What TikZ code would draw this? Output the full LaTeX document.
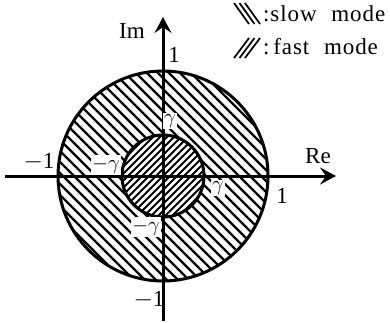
\documentclass[tikz,border=0pt]{standalone}
\usepackage{fontspec}
\setmainfont{Liberation Serif}
\usetikzlibrary{arrows.meta}
\newfontfamily\legfont[LetterSpace=4,WordSpace=2.2]{Liberation Serif}
\begin{document}
\begin{tikzpicture}[x=1pt,y=-1pt,
  thick line/.style={line width=3pt},
  hatch/.style={line width=2.4pt},
  ihatch/.style={line width=1.9pt},
  lbl/.style={font=\fontsize{23}{23}\selectfont, inner sep=1pt},
  glbl/.style={font=\fontsize{22}{22}\selectfont, inner sep=1.5pt, fill=white},
  axis/.style={line width=3pt, -{Stealth[length=16pt,width=17pt,inset=6pt]}}]
\useasboundingbox (0,0) rectangle (390,322);
\coordinate (O) at (163,176);
% annulus hatch (slow mode)
\begin{scope}[even odd rule]
  \clip (O) circle (105) (O) circle (41);
  \foreach \c in {-210,-199,...,210} {
    \draw[hatch] ([shift={(\c-150,-150)}]O) -- ([shift={(\c+150,150)}]O);
  }
\end{scope}
% inner disc hatch (fast mode)
\begin{scope}
  \clip (O) circle (41);
  \foreach \c in {-84,-77,...,84} {
    \draw[ihatch] ([shift={(\c-60,60)}]O) -- ([shift={(\c+60,-60)}]O);
  }
\end{scope}
\draw[thick line] (O) circle (105);
\draw[thick line] (O) circle (41);
% axes
\coordinate (xl) at (5,176);
\coordinate (xr) at (336,176);
\coordinate (yb) at (163,321);
\coordinate (yt) at (163,17);
\draw[axis] (xl) -- (xr);
\draw[axis] (yb) -- (yt);
% labels
\node[lbl] (im) at (132,31) {Im};
\node[lbl] (re) at (318,156) {Re};
\node[lbl] (one1) at (174,55) {1};
\node[lbl] (one2) at (282,196) {1};
\node[lbl] (mone1) at (39,162) {$-$1};
\node[lbl] (mone2) at (149,300) {$-$1};
\node[glbl] (g1) at (170,121) {$\gamma$};
\node[glbl] (g2) at (218,188) {$\gamma$};
\node[glbl] (mg1) at (106,165) {$-\gamma$};
\node[glbl] (mg2) at (146,227) {$-\gamma$};
% legend
\foreach \d in {0,5.5,11} {
  \draw[line width=1.7pt] (234+\d,3) -- (249+\d,24);
  \draw[line width=1.7pt] (234+\d,58) -- (249+\d,38);
}
\node[anchor=base west, inner sep=0pt, font=\fontsize{23}{23}\selectfont\legfont] (slow) at (263,21) {:slow mode};
\node[anchor=base west, inner sep=0pt, font=\fontsize{23}{23}\selectfont\legfont] (fast) at (263,54) {:\,fast mode};
\end{tikzpicture}
\end{document}
